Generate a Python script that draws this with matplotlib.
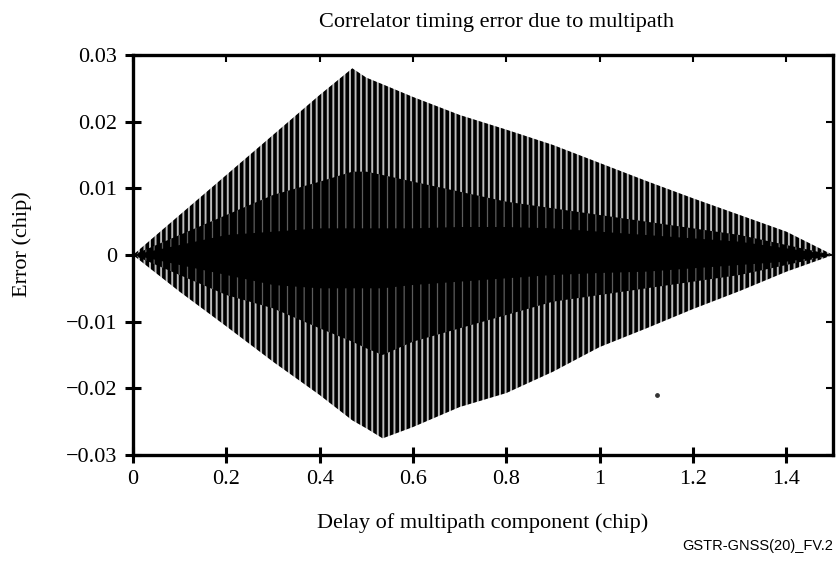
import matplotlib
matplotlib.use("Agg")
import matplotlib.pyplot as plt
import numpy as np

# ---- data ----
delay = [0, 0.1, 0.2, 0.3, 0.4, 0.47, 0.5, 0.535, 0.6, 0.7, 0.8, 0.9, 1.0, 1.1, 1.2, 1.3, 1.4, 1.5]
# outer envelope of the oscillating error (chip)
env_upper = [0, 0.006, 0.012, 0.018, 0.024, 0.028, 0.0266, 0.0256, 0.0237, 0.021, 0.0188,
             0.0165, 0.0138, 0.0111, 0.0085, 0.006, 0.0035, 0]
env_lower = [0, -0.0055, -0.0107, -0.016, -0.021, -0.0248, -0.026, -0.0275, -0.0258, -0.0228,
             -0.0207, -0.0175, -0.0138, -0.011, -0.0081, -0.0054, -0.0025, 0]
# dense (mostly black) band
dense_upper = [0, 0.003, 0.006, 0.009, 0.011, 0.0125, 0.0125, 0.012, 0.011, 0.0095, 0.008,
               0.007, 0.006, 0.005, 0.004, 0.003, 0.0015, 0]
dense_lower = [0, -0.003, -0.006, -0.008, -0.011, -0.013, -0.014, -0.015, -0.013, -0.011,
               -0.009, -0.007, -0.006, -0.005, -0.004, -0.003, -0.0015, 0]
# solid core
core_upper = [0, 0.0015, 0.003, 0.0035, 0.004, 0.004, 0.004, 0.004, 0.004, 0.0042, 0.0042,
              0.004, 0.0035, 0.003, 0.0025, 0.002, 0.001, 0]
core_lower = [0, -0.0015, -0.003, -0.0045, -0.005, -0.005, -0.005, -0.005, -0.0045, -0.004,
              -0.0035, -0.003, -0.0027, -0.0025, -0.002, -0.0015, -0.001, 0]
stray_x = [1.123]
stray_y = [-0.021]

xticks = [0, 0.2, 0.4, 0.6, 0.8, 1.0, 1.2, 1.4]
xticklabels = ["0", "0.2", "0.4", "0.6", "0.8", "1", "1.2", "1.4"]
yticks = [-0.03, -0.02, -0.01, 0, 0.01, 0.02, 0.03]
yticklabels = ["\u22120.03", "\u22120.02", "\u22120.01", "0", "0.01", "0.02", "0.03"]

serif = "Liberation Serif"
fs = 16

fig = plt.figure(figsize=(8.37, 5.66), dpi=100)
W, H = 837, 566
ax = fig.add_axes([133 / W, (H - 455) / H, (833 - 133) / W, (455 - 55) / H])

with plt.rc_context({"hatch.linewidth": 2.6}):
    ax.fill_between(delay, env_lower, env_upper, facecolor="#bdbdbd", edgecolor="black",
                    hatch="|||", linewidth=0, zorder=1)
with plt.rc_context({"hatch.linewidth": 0.9}):
    ax.fill_between(delay, dense_lower, dense_upper, facecolor="black", edgecolor="#5c5c5c",
                    hatch="||", linewidth=0, zorder=2)
ax.fill_between(delay, core_lower, core_upper, facecolor="black", edgecolor="none",
                linewidth=0, zorder=3)
ax.scatter(stray_x, stray_y, s=6, color="#333333", zorder=4)

ax.set_xlim(0, 1.5)
ax.set_ylim(-0.03, 0.03)
ax.set_xticks(xticks)
ax.set_xticklabels(xticklabels, fontfamily=serif, fontsize=fs)
ax.set_yticks(yticks)
ax.set_yticklabels(yticklabels, fontfamily=serif, fontsize=fs)
ax.tick_params(axis="both", direction="inout", length=11, width=2.2, color="black", pad=6)
ax.tick_params(axis="x", pad=5)

for s in ax.spines.values():
    s.set_linewidth(2.4)

secx = ax.secondary_xaxis("top")
secx.set_xticks(xticks)
secx.tick_params(direction="in", length=5, width=1.5, labeltop=False)
secx.spines["top"].set_visible(False)
secy = ax.secondary_yaxis("right")
secy.set_yticks(yticks)
secy.tick_params(direction="in", length=5, width=1.5, labelright=False)
secy.spines["right"].set_visible(False)

fig.text(497 / W, 1 - 22 / H, "Correlator timing error due to multipath", ha="center",
         va="center", fontfamily=serif, fontsize=fs)
fig.text(483 / W, 1 - 523 / H, "Delay of multipath component (chip)", ha="center",
         va="center", fontfamily=serif, fontsize=fs)
fig.text(22 / W, 1 - 244 / H, "Error (chip)", ha="center", va="center", rotation=90,
         fontfamily=serif, fontsize=fs)
fig.text(833 / W, 1 - 546 / H, "GSTR-GNSS(20)_FV.2", ha="right", va="center",
         fontfamily="Liberation Sans", fontsize=10.5)

fig.savefig("out.png", dpi=100)
